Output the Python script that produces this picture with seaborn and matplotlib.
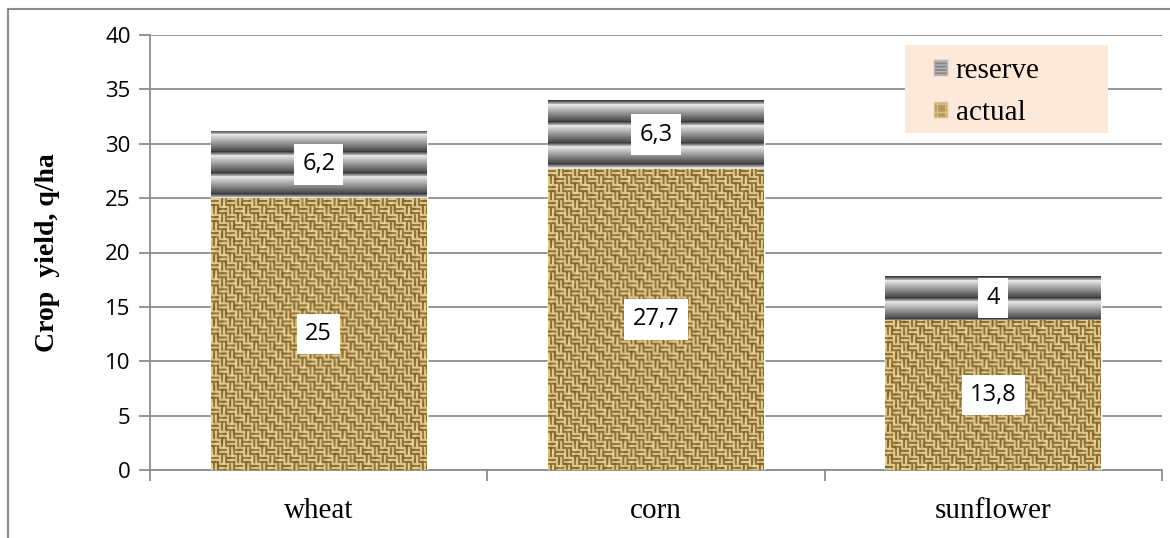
import numpy as np
import matplotlib
matplotlib.use("Agg")
import matplotlib.pyplot as plt
import matplotlib.patches as mpatches
from matplotlib.lines import Line2D
import seaborn as sns

crops = ["wheat", "corn", "sunflower"]
actual = [25, 27.7, 13.8]
reserve = [6.2, 6.3, 4]
actual_labels = ["25", "27,7", "13,8"]
reserve_labels = ["6,2", "6,3", "4"]
y_ticks = [0, 5, 10, 15, 20, 25, 30, 35, 40]

sns.set_theme(style="white")
plt.rcParams['font.family'] = ['Open Sans', 'DejaVu Sans']
plt.rcParams['text.color'] = 'black'
plt.rcParams['axes.labelcolor'] = 'black'
plt.rcParams['xtick.labelcolor'] = 'black'
plt.rcParams['ytick.labelcolor'] = 'black'
SERIF = ["Liberation Serif", "DejaVu Serif"]

GRID = "#8c8c8c"
PX_PER_UNIT = 435 / 40.0


def burlap(h, w):
    # woven tan texture, deterministic basket weave
    i, j = np.mgrid[0:h, 0:w]
    block = ((i // 8) + (j // 8)) % 2
    stripe_h = (i % 4 < 2).astype(float)
    stripe_v = (j % 4 < 2).astype(float)
    s = np.where(block == 0, stripe_h, stripe_v)
    mod = 0.5 + 0.3 * np.sin(i / 3.1 + j / 4.7) * np.sin(j / 2.3 - i / 5.9) + 0.2 * np.sin(i * 0.37 + j * 0.91)
    v = 0.7 * s + 0.3 * mod
    light = np.array([0.94, 0.85, 0.62])
    dark = np.array([0.50, 0.37, 0.14])
    return dark + (light - dark) * v[..., None]


def stripes(h, w, period=21):
    i = np.arange(h)
    p = (i % period) / period
    g = np.where(p < 0.18, 0.22 + p * 3.2, 0.92 - (p - 0.18) * 0.8)
    g = np.clip(g, 0.15, 0.95)
    img = np.repeat(g[:, None], w, axis=1)
    return np.stack([img, img, img], axis=-1)


fig = plt.figure(figsize=(11.7, 5.38), dpi=100)
ax = fig.add_axes([150 / 1170, 68 / 538, 1012 / 1170, 435 / 538])

totals = [a + r for a, r in zip(actual, reserve)]
sns.barplot(x=crops, y=totals, ax=ax, color="#b0b0b0", width=0.64, zorder=2)
sns.barplot(x=crops, y=actual, ax=ax, color="#c9a76b", width=0.64, zorder=3)

patches = list(ax.patches)
top_bars = patches[:3]
low_bars = patches[3:6]

for p in top_bars:
    x0, w = p.get_x(), p.get_width()
    y0, h = p.get_y(), p.get_height()
    rows = max(int(h * PX_PER_UNIT), 2)
    im = ax.imshow(stripes(rows, 40), extent=(x0, x0 + w, y0, y0 + h),
                   aspect="auto", origin="upper", zorder=2, interpolation="bilinear")
    im.set_clip_path(p)
for p in low_bars:
    x0, w = p.get_x(), p.get_width()
    y0, h = p.get_y(), p.get_height()
    rows = max(int(h * PX_PER_UNIT), 2)
    im = ax.imshow(burlap(rows, 215), extent=(x0, x0 + w, y0, y0 + h),
                   aspect="auto", origin="upper", zorder=3, interpolation="bilinear")
    im.set_clip_path(p)

# value labels in white boxes
for k in range(3):
    ax.text(k, actual[k] / 2, actual_labels[k], ha="center", va="center",
            fontsize=17, color="black", zorder=5,
            bbox=dict(boxstyle="square,pad=0.35", facecolor="white", edgecolor="none"))
    ax.text(k, actual[k] + reserve[k] / 2, reserve_labels[k], ha="center", va="center",
            fontsize=17, color="black", zorder=5,
            bbox=dict(boxstyle="square,pad=0.35", facecolor="white", edgecolor="none"))

ax.set_xlim(-0.5, 2.5)
ax.set_ylim(0, 40)
ax.set_yticks(y_ticks)
ax.set_yticklabels([str(t) for t in y_ticks], fontsize=16)
ax.yaxis.grid(True, color=GRID, linewidth=1.3, zorder=0)
ax.set_axisbelow(True)
for s in ["top", "right"]:
    ax.spines[s].set_visible(False)
for s in ["left", "bottom"]:
    ax.spines[s].set_color(GRID)
    ax.spines[s].set_linewidth(1.3)
ax.tick_params(axis="y", which="major", left=True, length=8, width=1.3, color=GRID, pad=6)
ax.set_xticks([0, 1, 2])
ax.set_xticklabels(crops, fontsize=21, family=SERIF)
ax.tick_params(axis="x", which="major", bottom=False, pad=14)
ax.set_xticks([-0.5, 0.5, 1.5, 2.5], minor=True)
ax.tick_params(axis="x", which="minor", bottom=True, length=8, width=1.3, color=GRID)
ax.set_xlabel("")
ax.set_ylabel("Crop  yield, q/ha", fontsize=20, fontweight="bold", family=SERIF)
ax.yaxis.set_label_coords(-90 / 1012, 0.5)

# legend background box
ax.add_patch(mpatches.Rectangle((905 / 1170, 1 - 133 / 538), 203 / 1170, 88 / 538,
                                transform=fig.transFigure, facecolor="#fde9d9",
                                edgecolor="none", zorder=6, clip_on=False))
handles = [mpatches.Patch(facecolor="#8a8a8a", edgecolor="#b5b5b5", hatch="-----", label="reserve"),
           mpatches.Patch(facecolor="#b8975a", edgecolor="#d9c08a", hatch="++", label="actual")]
leg = ax.legend(handles=handles, loc="center left", bbox_to_anchor=(934 / 1170, 1 - 92 / 538),
                bbox_transform=fig.transFigure, frameon=False,
                handlelength=0.45, handleheight=0.45, handletextpad=0.3,
                borderpad=0, labelspacing=0.55, borderaxespad=0,
                prop={"family": SERIF, "size": 21})
leg.set_zorder(7)

# outer chart frame
fig.add_artist(Line2D([8 / 1170, 8 / 1170], [0, 1 - 9 / 538], transform=fig.transFigure,
                      color=GRID, linewidth=1.5))
fig.add_artist(Line2D([8 / 1170, 1], [1 - 9 / 538, 1 - 9 / 538], transform=fig.transFigure,
                      color=GRID, linewidth=1.5))

fig.savefig("out.png", dpi=100)
